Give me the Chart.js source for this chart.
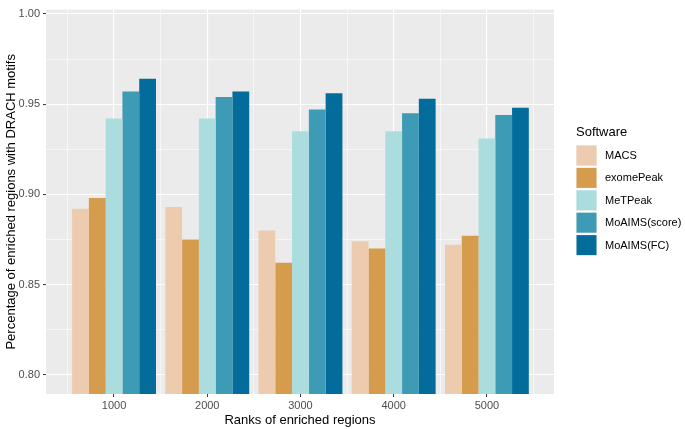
<!DOCTYPE html>
<html>
<head>
<meta charset="utf-8">
<script src="https://cdn.jsdelivr.net/npm/chart.js@4"></script>
<style>
  html, body { margin: 0; padding: 0; background: #ffffff; }
  #wrap { width: 685px; height: 429px; position: relative; }
</style>
</head>
<body>
<div id="wrap"><canvas id="c" width="685" height="429"></canvas></div>
<script>
const categories = [1000, 2000, 3000, 4000, 5000];
const seriesNames = ["MACS", "exomePeak", "MeTPeak", "MoAIMS(score)", "MoAIMS(FC)"];
const macs = [0.892, 0.893, 0.880, 0.874, 0.872];
const exomePeak = [0.898, 0.875, 0.862, 0.870, 0.877];
const meTPeak = [0.942, 0.942, 0.935, 0.935, 0.931];
const moaimsScore = [0.957, 0.954, 0.947, 0.945, 0.944];
const moaimsFC = [0.964, 0.957, 0.956, 0.953, 0.948];
const yTicks = [0.80, 0.85, 0.90, 0.95, 1.00];
const xTickLabels = ["1000", "2000", "3000", "4000", "5000"];

const seriesValues = [macs, exomePeak, meTPeak, moaimsScore, moaimsFC];
const colors = ["#ECCBAE", "#D69C4E", "#ABDDDE", "#3E9BB5", "#046C9A"];
const FONT = "'Liberation Sans', Arial, Helvetica, sans-serif";

// Chart.js measures bar room from the 500-unit tick spacing (half a category),
// so 1.8 here gives groups 0.9 of the 1000-unit category spacing.
const datasets = seriesNames.map((name, i) => ({
  label: name,
  data: categories.map((c, j) => ({ x: c, y: seriesValues[i][j] })),
  backgroundColor: colors[i],
  borderWidth: 0,
  categoryPercentage: 1.8,
  barPercentage: 1.0
}));

const panelPlugin = {
  id: 'panel',
  beforeDraw(chart) {
    const { ctx, chartArea: a } = chart;
    ctx.save();
    ctx.fillStyle = '#EBEBEB';
    ctx.fillRect(a.left, a.top, a.right - a.left, a.bottom - a.top);
    ctx.restore();
  }
};

const legendPlugin = {
  id: 'ggLegend',
  afterDraw(chart) {
    const ctx = chart.ctx;
    ctx.save();
    ctx.fillStyle = '#000000';
    ctx.font = '13px ' + FONT;
    ctx.textBaseline = 'middle';
    ctx.textAlign = 'left';
    ctx.fillText('Software', 576, 132);
    const x0 = 576, y0 = 145, step = 22.4, size = 21;
    chart.data.datasets.forEach((ds, i) => {
      const y = y0 + i * step;
      ctx.fillStyle = '#F2F2F2';
      ctx.fillRect(x0, y, size, size);
      ctx.fillStyle = ds.backgroundColor;
      ctx.fillRect(x0 + 0.5, y + 0.5, size - 1, size - 1);
      ctx.fillStyle = '#000000';
      ctx.font = '11px ' + FONT;
      ctx.fillText(ds.label, 605, y + size / 2 + 0.5);
    });
    ctx.restore();
  }
};

function isMajorY(v) { return yTicks.some(t => Math.abs(t - v) < 1e-6); }
function isMajorX(v) { return categories.some(t => Math.abs(t - v) < 1e-6); }

new Chart(document.getElementById('c'), {
  type: 'bar',
  data: { datasets },
  plugins: [panelPlugin, legendPlugin],
  options: {
    responsive: false,
    animation: false,
    layout: { padding: { left: 2, right: 131, top: 0, bottom: 0 } },
    plugins: {
      legend: { display: false },
      tooltip: { enabled: false }
    },
    scales: {
      x: {
        type: 'linear',
        min: 270,
        max: 5720,
        offset: false,
        afterFit(s) { s.height = 35; },
        afterBuildTicks(s) {
          const t = [];
          for (let v = 500; v <= 5500; v += 500) t.push({ value: v });
          s.ticks = t;
        },
        ticks: {
          autoSkip: false,
          maxRotation: 0,
          padding: 2,
          color: '#4D4D4D',
          font: { family: FONT, size: 11 },
          callback(v) {
            const idx = categories.indexOf(v);
            return idx >= 0 ? xTickLabels[idx] : '';
          }
        },
        grid: {
          offset: false,
          drawOnChartArea: true,
          color: '#FFFFFF',
          lineWidth(ctx) { return isMajorX(ctx.tick.value) ? 1.1 : 0.55; },
          tickLength: 3,
          tickColor(ctx) { return isMajorX(ctx.tick.value) ? '#333333' : 'rgba(0,0,0,0)'; },
          tickWidth: 1
        },
        border: { display: false },
        title: {
          display: true,
          text: 'Ranks of enriched regions',
          color: '#000000',
          font: { family: FONT, size: 13 },
          padding: { top: 0, bottom: 1 }
        }
      },
      y: {
        type: 'linear',
        min: 0.7893,
        max: 1.0024,
        afterFit(s) { s.width = 44; },
        afterBuildTicks(s) {
          const t = [];
          for (let k = 0; k <= 8; k++) t.push({ value: Math.round((0.80 + k * 0.025) * 1000) / 1000 });
          s.ticks = t;
        },
        ticks: {
          autoSkip: false,
          padding: 3,
          color: '#4D4D4D',
          font: { family: FONT, size: 11 },
          callback(v) { return isMajorY(v) ? v.toFixed(2) : ''; }
        },
        grid: {
          color: '#FFFFFF',
          lineWidth(ctx) { return isMajorY(ctx.tick.value) ? 1.1 : 0.55; },
          tickLength: 3,
          tickColor(ctx) { return isMajorY(ctx.tick.value) ? '#333333' : 'rgba(0,0,0,0)'; },
          tickWidth: 1
        },
        border: { display: false },
        title: {
          display: true,
          text: 'Percentage of enriched regions with DRACH motifs',
          color: '#000000',
          font: { family: FONT, size: 13 },
          padding: { top: 2, bottom: 0 }
        }
      }
    }
  }
});
</script>
</body>
</html>
